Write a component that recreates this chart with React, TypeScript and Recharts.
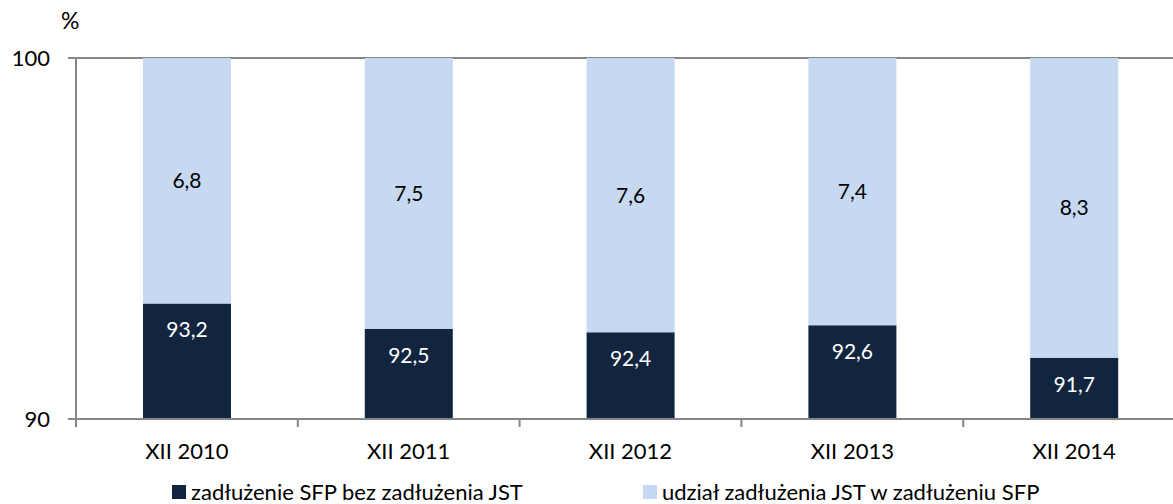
import React from 'react';
import { BarChart, Bar, XAxis, YAxis, CartesianGrid, Legend, LabelList } from 'recharts';

const categories = ['XII 2010', 'XII 2011', 'XII 2012', 'XII 2013', 'XII 2014'];
const sfpExJst = [93.2, 92.5, 92.4, 92.6, 91.7];
const jstShare = [6.8, 7.5, 7.6, 7.4, 8.3];
const yTicks = [90, 100];
const seriesNames = ['zadłużenie SFP bez zadłużenia JST', 'udział zadłużenia JST w zadłużeniu SFP'];
const unitLabel = '%';

const DARK = '#11253F';
const LIGHT = '#C6D9F1';
const AXIS = '#868686';
const FONT = 'Lato, "Open Sans", sans-serif';

const data = categories.map((c, i) => ({ cat: c, a: sfpExJst[i], b: jstShare[i] }));

const fmt = (v: any) => Number(v).toFixed(1).replace('.', ',');

const XTick = (props: any) => {
  const { x, y, payload, index, visibleTicksCount } = props;
  const half = payload && payload.offset ? payload.offset : 110.9;
  const axisY = y - 24;
  return (
    <g>
      <line x1={x - half} x2={x - half} y1={axisY} y2={axisY + 8} stroke={AXIS} strokeWidth={2} />
      {index === visibleTicksCount - 1 && (
        <line x1={x + half} x2={x + half} y1={axisY} y2={axisY + 8} stroke={AXIS} strokeWidth={2} />
      )}
      <text x={x} y={y} dy="0.71em" textAnchor="middle" fill="#000" fontSize={22} fontFamily={FONT}>
        {payload.value}
      </text>
    </g>
  );
};

const legendColors = [DARK, LIGHT];
const legendLefts = [172, 643];

const LegendContent = () => (
  <div style={{ position: 'relative', height: 40, fontFamily: FONT, fontSize: 22 }}>
    {seriesNames.map((n, i) => (
      <div
        key={n}
        style={{
          position: 'absolute',
          left: legendLefts[i],
          top: 16,
          height: 24,
          lineHeight: '24px',
          display: 'flex',
          alignItems: 'center',
          whiteSpace: 'nowrap',
          color: '#000',
        }}
      >
        <span style={{ display: 'inline-block', width: 14, height: 14, background: legendColors[i], marginRight: 5 }} />
        <span>{n}</span>
      </div>
    ))}
  </div>
);

export default function App() {
  return (
    <div style={{ position: 'absolute', left: 0, top: 0, width: 1173, height: 504, overflow: 'hidden', background: '#fff' }}>
      <div
        style={{
          position: 'absolute',
          left: 61,
          top: 9,
          fontFamily: FONT,
          fontSize: 23,
          lineHeight: '23px',
          color: '#000',
        }}
      >
        {unitLabel}
      </div>
      <BarChart width={1200} height={504} data={data} margin={{ top: 58, right: 15, bottom: 0, left: 0 }}>
        <CartesianGrid vertical={false} stroke={AXIS} strokeWidth={2} />
        <XAxis
          dataKey="cat"
          height={45}
          tickLine={false}
          tickSize={8}
          tickMargin={16}
          axisLine={{ stroke: AXIS, strokeWidth: 2 }}
          tick={<XTick />}
          interval={0}
        />
        <YAxis
          width={76}
          domain={[90, 100]}
          ticks={yTicks}
          allowDataOverflow
          tickSize={8}
          tickMargin={18}
          tickLine={{ stroke: AXIS, strokeWidth: 2 }}
          axisLine={{ stroke: AXIS, strokeWidth: 2 }}
          tick={{ fill: '#000', fontSize: 22, fontFamily: FONT }}
        />
        <Legend verticalAlign="bottom" height={40} content={<LegendContent />} />
        <Bar dataKey="a" stackId="s" fill={DARK} barSize={88} isAnimationActive={false}>
          <LabelList dataKey="a" position="insideTop" offset={19} formatter={fmt} fill="#fff" fontSize={21} fontFamily={FONT} />
        </Bar>
        <Bar dataKey="b" stackId="s" fill={LIGHT} barSize={88} isAnimationActive={false}>
          <LabelList dataKey="b" position="center" formatter={fmt} fill="#000" fontSize={21} fontFamily={FONT} />
        </Bar>
      </BarChart>
    </div>
  );
}
